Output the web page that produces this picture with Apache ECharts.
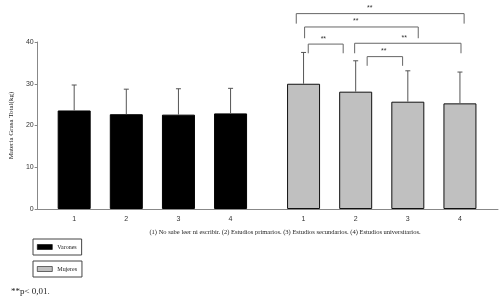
<!DOCTYPE html>
<html>
<head>
<meta charset="utf-8">
<script src="https://cdn.jsdelivr.net/npm/echarts@6/dist/echarts.min.js"></script>
<style>
  html, body { margin: 0; padding: 0; background: #fff; }
  #chart { width: 499px; height: 300px; }
</style>
</head>
<body>
<div id="chart"></div>
<script>
// posiciones en el eje x (hueco entre grupos)
const xVarones = [1, 2, 3, 4]
const xMujeres = [5.4, 6.4, 7.4, 8.4]
const tickLabels = ['1', '2', '3', '4', '1', '2', '3', '4']

const mediaVarones = [23.6, 22.7, 22.6, 22.9]
const errVarones = [29.7, 28.7, 28.8, 28.9]
const mediaMujeres = [30.0, 28.1, 25.7, 25.3]
const errMujeres = [37.5, 35.5, 33.1, 32.8]

// [x1, x2, yTop, yLeg, xStars]
const brackets = [
  [5.49, 6.16, 39.5, 37.3, 5.78],
  [6.62, 7.30, 36.5, 34.3, 6.94],
  [6.38, 8.42, 39.7, 37.3, 7.33],
  [5.42, 7.60, 43.6, 40.9, 6.40],
  [5.26, 8.48, 46.8, 44.4, 6.67]
]

const caption = '(1) No sabe leer ni escribir. (2) Estudios primarios. (3) Estudios secundarios. (4) Estudios universitarios.'
const nota = '**p< 0,01.'

const tickValues = xVarones.concat(xMujeres)
const serif = 'Liberation Serif'
const sans = 'Liberation Sans'

function errorItem(params, api) {
  const p0 = api.coord([api.value(0), api.value(1)])
  const p1 = api.coord([api.value(0), api.value(2)])
  return {
    type: 'group',
    children: [
      { type: 'line', shape: { x1: p0[0], y1: p0[1], x2: p1[0], y2: p1[1] }, style: { stroke: '#555', lineWidth: 1 } },
      { type: 'line', shape: { x1: p1[0] - 2.5, y1: p1[1], x2: p1[0] + 2.5, y2: p1[1] }, style: { stroke: '#555', lineWidth: 1 } }
    ]
  }
}

function bracketItem(params, api) {
  const a = api.coord([api.value(0), api.value(2)])
  const b = api.coord([api.value(1), api.value(2)])
  const leg = api.coord([api.value(0), api.value(3)])
  const s = api.coord([api.value(4), api.value(2)])
  return {
    type: 'group',
    children: [
      {
        type: 'polyline',
        shape: { points: [[a[0], leg[1]], [a[0], a[1]], [b[0], b[1]], [b[0], leg[1]]] },
        style: { stroke: '#666', lineWidth: 1, fill: null }
      },
      {
        type: 'text',
        x: s[0], y: s[1] - 2,
        style: { text: '**', fontSize: 7, fontFamily: sans, fill: '#333', align: 'center', verticalAlign: 'bottom' }
      }
    ]
  }
}

const legendBase = {
  left: 33, orient: 'vertical', icon: 'rect',
  itemWidth: 15, itemHeight: 5, padding: [5, 5, 5, 4],
  borderColor: '#444', borderWidth: 1,
  itemStyle: { borderWidth: 0.6 },
  textStyle: { fontFamily: serif, fontSize: 6, color: '#222' }
}

const chart = echarts.init(document.getElementById('chart'))
chart.setOption({
  animation: false,
  title: [
    { text: caption, left: 280, top: 224, textAlign: 'center', textStyle: { fontFamily: serif, fontSize: 6.5, fontWeight: 'normal', color: '#222' } },
    { text: nota, left: 6, top: 282, textStyle: { fontFamily: serif, fontSize: 9, fontWeight: 'normal', color: '#222' } }
  ],
  legend: [
    Object.assign({ data: ['Varones'], top: 239 }, legendBase),
    Object.assign({ data: ['Mujeres'], top: 261 }, legendBase)
  ],
  grid: { left: 33, right: 1, top: 42, bottom: 91 },
  xAxis: {
    type: 'value', min: 0.3, max: 9.13,
    splitLine: { show: false },
    axisLine: { show: true, lineStyle: { color: '#888' } },
    axisTick: { show: false },
    axisLabel: {
      customValues: tickValues,
      margin: 7,
      fontSize: 7, fontFamily: sans, color: '#333',
      formatter: (v) => tickLabels[tickValues.indexOf(v)] || ''
    }
  },
  yAxis: {
    type: 'value', min: 0, max: 40, interval: 10,
    name: 'Materia Grasa Total(kg)',
    nameLocation: 'middle', nameGap: 22,
    nameTextStyle: { fontFamily: serif, fontSize: 7, color: '#222' },
    splitLine: { show: false },
    axisLine: { show: true, lineStyle: { color: '#888' } },
    axisTick: { show: true, length: 3, lineStyle: { color: '#888' } },
    axisLabel: { fontSize: 7, fontFamily: sans, color: '#333', margin: 4 }
  },
  series: [
    {
      name: 'Varones', type: 'bar', barWidth: 33, barGap: '-100%',
      data: xVarones.map((x, i) => [x, mediaVarones[i]]),
      itemStyle: { color: '#000', borderColor: '#000', borderWidth: 1 }
    },
    {
      name: 'Mujeres', type: 'bar', barWidth: 33, barGap: '-100%',
      data: xMujeres.map((x, i) => [x, mediaMujeres[i]]),
      itemStyle: { color: '#c0c0c0', borderColor: '#111', borderWidth: 1 }
    },
    {
      type: 'custom', renderItem: errorItem, clip: false, z: 3,
      data: xVarones.map((x, i) => [x, mediaVarones[i], errVarones[i]])
        .concat(xMujeres.map((x, i) => [x, mediaMujeres[i], errMujeres[i]]))
    },
    {
      type: 'custom', renderItem: bracketItem, clip: false, z: 3,
      data: brackets
    }
  ]
})
</script>
</body>
</html>
